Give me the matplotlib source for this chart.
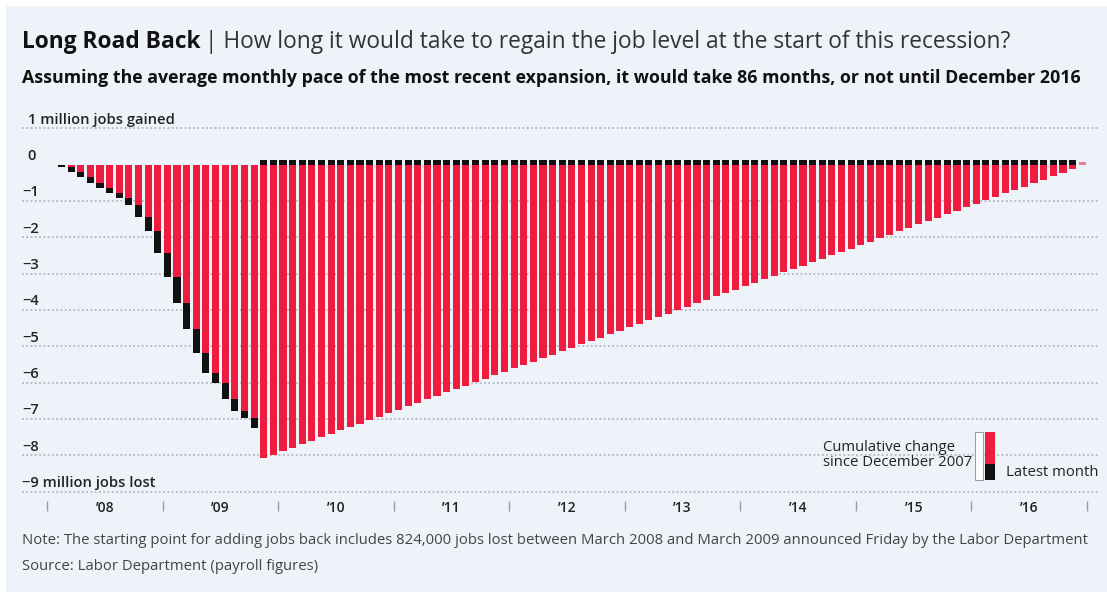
import numpy as np
import matplotlib
matplotlib.use('Agg')
import matplotlib.pyplot as plt
from matplotlib.patches import Rectangle

plt.rcParams['font.family'] = ['Open Sans', 'DejaVu Sans']

# cumulative change since Dec 2007, millions of jobs (Jan 2008 - Oct 2009, reported)
actual = [0.0, -0.07, -0.21, -0.34, -0.50, -0.64, -0.79, -0.93, -1.10, -1.43, -1.83, -2.43,
          -3.09, -3.81, -4.52, -5.18, -5.73, -6.00, -6.45, -6.78, -6.97, -7.25]
# projected path back (Nov 2009 - Dec 2016)
projected = [-8.07, -7.98, -7.88, -7.79, -7.69, -7.60, -7.50, -7.41, -7.31, -7.22,
             -7.13, -7.03, -6.94, -6.84, -6.75, -6.65, -6.56, -6.46, -6.37, -6.27,
             -6.18, -6.09, -5.99, -5.90, -5.80, -5.71, -5.61, -5.52, -5.42, -5.33,
             -5.24, -5.14, -5.05, -4.95, -4.86, -4.76, -4.67, -4.57, -4.48, -4.39,
             -4.29, -4.20, -4.10, -4.01, -3.91, -3.82, -3.72, -3.63, -3.53, -3.44,
             -3.35, -3.25, -3.16, -3.06, -2.97, -2.87, -2.78, -2.68, -2.59, -2.50,
             -2.40, -2.31, -2.21, -2.12, -2.02, -1.93, -1.83, -1.74, -1.64, -1.55,
             -1.46, -1.36, -1.27, -1.17, -1.08, -0.98, -0.89, -0.79, -0.70, -0.61,
             -0.51, -0.42, -0.32, -0.23, -0.13, 0.07]
# black "latest month" cap drawn above zero on the projected bars
proj_cap = 0.13

years = ['\u201908', '\u201909', '\u201910', '\u201911', '\u201912', '\u201913', '\u201914', '\u201915', '\u201916']
ytick_vals = [1, 0, -1, -2, -3, -4, -5, -6, -7, -8, -9]
ytick_labels = ['1 million jobs gained', '0', '\u22121', '\u22122', '\u22123', '\u22124', '\u22125',
                '\u22126', '\u22127', '\u22128', '\u22129 million jobs lost']

RED = '#ee1c3f'
BLACK = '#111111'
BG = '#eef2f9'
W, H = 1107, 592


def fx(px):
    return px / W


def fy(py):
    return 1 - py / H


fig = plt.figure(figsize=(W / 100, H / 100), dpi=100, facecolor='white')
fig.add_artist(Rectangle((fx(6), 0), 1, fy(6), transform=fig.transFigure,
                         facecolor=BG, edgecolor='none', zorder=-10))

ax = fig.add_axes([fx(22), fy(500.7), (1098 - 22) / W, (500.7 - 124.6) / H])
ax.set_facecolor('none')
ax.set_xlim(-3.1, 108.64)
ax.set_ylim(-9.25, 1.1)
for s in ax.spines.values():
    s.set_visible(False)

# dotted gridlines
for v in ytick_vals:
    if v != 0:
        ax.axhline(v, color='#a8adb5', lw=1.1, ls=(0, (1.2, 1.6)), zorder=0)

# bars
n_act = len(actual)
idx_act = np.arange(n_act)
idx_proj = np.arange(n_act, n_act + len(projected))
prev = np.array([0.0] + actual[:-1])
cur = np.array(actual)
bw = 0.74
ax.bar(idx_act, prev, width=bw, color=RED, lw=0, zorder=2)
ax.bar(idx_act, cur - prev, bottom=prev, width=bw, color=BLACK, lw=0, zorder=2)
ax.bar(idx_proj[:-1], projected[:-1], width=bw, color=RED, lw=0, zorder=2)
ax.bar(idx_proj[:-1], proj_cap, width=bw, color=BLACK, lw=0, zorder=2)
ax.bar(idx_proj[-1], projected[-1], width=bw, color=RED, alpha=0.55, lw=0, zorder=2)

# y labels sit just above their gridlines
for v, lab in zip(ytick_vals, ytick_labels):
    dx = 4 if v >= 0 else 0
    ax.annotate(lab, xy=(0, v), xycoords=('axes fraction', 'data'),
                xytext=(dx, 1.2), textcoords='offset points', ha='left', va='bottom',
                fontsize=10.6, fontweight='semibold', color='#222222', annotation_clip=False)
ax.set_yticks([])

# year separators and labels
bounds = np.arange(-0.5, 108, 12)
mids = bounds[:-1] + 6
ax.set_xticks(bounds, labels=[''] * len(bounds))
ax.set_xticks(mids, labels=years, minor=True)
ax.tick_params(axis='x', which='major', length=7.5, width=1, color='#9a9ea6', direction='out')
ax.tick_params(axis='x', which='minor', length=0, pad=0, labelsize=10, labelcolor='#222222')
for t in ax.get_xticklabels(minor=True):
    t.set_fontweight('semibold')

# title
t1 = fig.text(fx(22), fy(42), 'Long Road Back', fontsize=16.4, fontweight='bold',
              color='#111111', ha='left', va='center')
ax.annotate('| How long it would take to regain the job level at the start of this recession?',
            xy=(1, 0), xycoords=t1, xytext=(3, 0), textcoords='offset points',
            ha='left', va='bottom', fontsize=16.4, color='#333333', annotation_clip=False)
fig.text(fx(22), fy(78), 'Assuming the average monthly pace of the most recent expansion, '
         'it would take 86 months, or not until December 2016',
         fontsize=12.75, fontweight='bold', color='#111111', ha='left', va='center')

# legend
fig.text(fx(823), fy(455), 'Cumulative change\nsince December 2007', fontsize=10.7,
         color='#222222', ha='left', va='center', linespacing=0.95)
fig.text(fx(1006), fy(472), 'Latest month', fontsize=10.7, color='#222222', ha='left', va='center')
fig.add_artist(Rectangle((fx(975), fy(480)), 8 / W, 48 / H, transform=fig.transFigure,
                         facecolor='white', edgecolor='#9a9ea6', lw=0.8))
fig.add_artist(Rectangle((fx(985), fy(464)), 10 / W, 32 / H, transform=fig.transFigure,
                         facecolor=RED, edgecolor='none'))
fig.add_artist(Rectangle((fx(985), fy(480)), 10 / W, 16 / H, transform=fig.transFigure,
                         facecolor=BLACK, edgecolor='none'))

# notes
fig.text(fx(22), fy(541), 'Note: The starting point for adding jobs back includes 824,000 jobs lost '
         'between March 2008 and March 2009 announced Friday by the Labor Department',
         fontsize=10.7, color='#444444', ha='left', va='center')
fig.text(fx(22), fy(566), 'Source: Labor Department (payroll figures)',
         fontsize=10.7, color='#444444', ha='left', va='center')

fig.savefig('out.png', dpi=100, facecolor=fig.get_facecolor())
